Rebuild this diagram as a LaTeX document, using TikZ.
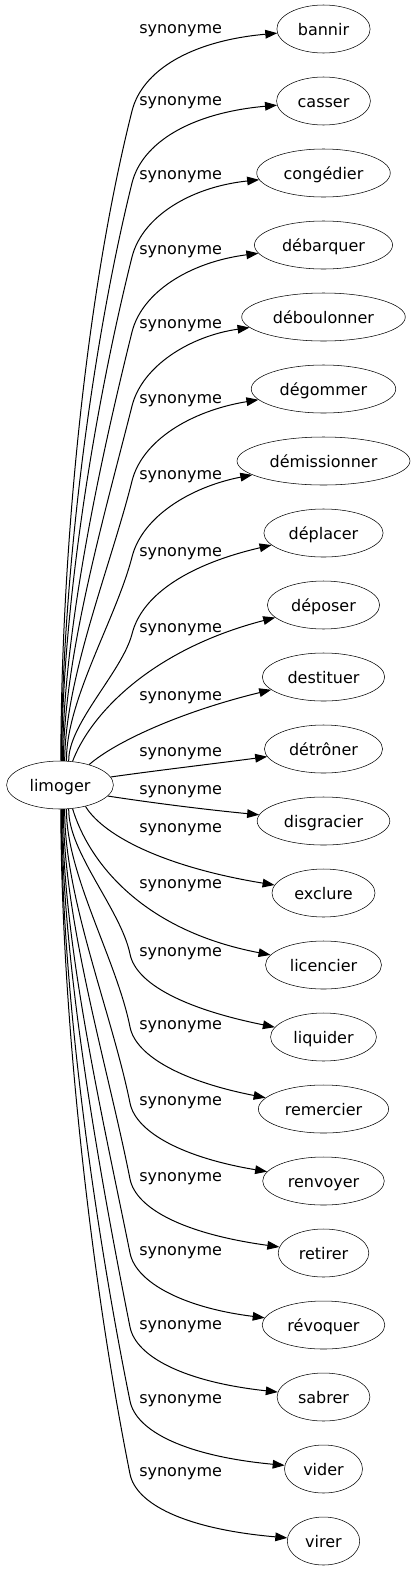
\documentclass[tikz,border=0pt]{standalone}
\usepackage{fontspec}
\setmainfont{DejaVu Sans}
\usetikzlibrary{shapes.geometric,arrows.meta}

\tikzset{
  mot/.style={draw, ellipse, inner xsep=5.5pt, inner ysep=0pt, minimum height=36pt, text height=10pt, text depth=1pt},
  lbl/.style={anchor=west, inner sep=0pt},
  syn/.style={-{Triangle[length=9pt,width=6.5pt]}, line width=0.75pt},
}

\begin{document}
\begin{tikzpicture}[x=0.75pt, y=-0.75pt, font=\fontsize{12}{14}\selectfont]
    \useasboundingbox (0,0) rectangle (413,1571);

    \node[mot] (limoger) at (60,785) {limoger};

    \node[mot] (bannir) at (323.5,29) {bannir};
    \node[mot] (casser) at (323.5,101) {casser};
    \node[mot] (congedier) at (323.5,173) {congédier};
    \node[mot] (debarquer) at (323.5,245) {débarquer};
    \node[mot] (deboulonner) at (323.5,317) {déboulonner};
    \node[mot] (degommer) at (323.5,389) {dégommer};
    \node[mot] (demissionner) at (323.5,461) {démissionner};
    \node[mot] (deplacer) at (323.5,533) {déplacer};
    \node[mot] (deposer) at (323.5,605) {déposer};
    \node[mot] (destituer) at (323.5,677) {destituer};
    \node[mot] (detroner) at (323.5,749) {détrôner};
    \node[mot] (disgracier) at (323.5,821) {disgracier};
    \node[mot] (exclure) at (323.5,893) {exclure};
    \node[mot] (licencier) at (323.5,965) {licencier};
    \node[mot] (liquider) at (323.5,1037) {liquider};
    \node[mot] (remercier) at (323.5,1109) {remercier};
    \node[mot] (renvoyer) at (323.5,1181) {renvoyer};
    \node[mot] (retirer) at (323.5,1253) {retirer};
    \node[mot] (revoquer) at (323.5,1325) {révoquer};
    \node[mot] (sabrer) at (323.5,1397) {sabrer};
    \node[mot] (vider) at (323.5,1469) {vider};
    \node[mot] (virer) at (323.5,1541) {virer};

    \node[lbl] (lbannir) at (139,31) {synonyme};
    \node[lbl] (lcasser) at (139,103) {synonyme};
    \node[lbl] (lcongedier) at (139,177) {synonyme};
    \node[lbl] (ldebarquer) at (139,252) {synonyme};
    \node[lbl] (ldeboulonner) at (139,326) {synonyme};
    \node[lbl] (ldegommer) at (139,401) {synonyme};
    \node[lbl] (ldemissionner) at (139,477) {synonyme};
    \node[lbl] (ldeplacer) at (139,554) {synonyme};
    \node[lbl] (ldeposer) at (139,630) {synonyme};
    \node[lbl] (ldestituer) at (139,698) {synonyme};
    \node[lbl] (ldetroner) at (139,754) {synonyme};
    \node[lbl] (ldisgracier) at (139,792) {synonyme};
    \node[lbl] (lexclure) at (139,830) {synonyme};
    \node[lbl] (llicencier) at (139,886) {synonyme};
    \node[lbl] (lliquider) at (139,954) {synonyme};
    \node[lbl] (lremercier) at (139,1027) {synonyme};
    \node[lbl] (lrenvoyer) at (139,1103) {synonyme};
    \node[lbl] (lretirer) at (139,1179) {synonyme};
    \node[lbl] (lrevoquer) at (139,1253) {synonyme};
    \node[lbl] (lsabrer) at (139,1327) {synonyme};
    \node[lbl] (lvider) at (139,1401) {synonyme};
    \node[lbl] (lvirer) at (139,1474) {synonyme};

    \draw[syn] (limoger.88) .. controls (61,567) and (83,306) .. (132,111) .. controls (142,71) and (190,41) .. (bannir);
    \draw[syn] (limoger.87) .. controls (62,588) and (89,357) .. (132,183) .. controls (142,143) and (190,113) .. (casser);
    \draw[syn] (limoger.86) .. controls (62,610) and (94,409) .. (132,257) .. controls (142,217) and (190,187) .. (congedier);
    \draw[syn] (limoger.84) .. controls (63,633) and (100,461) .. (132,332) .. controls (142,292) and (190,262) .. (debarquer);
    \draw[syn] (limoger.82) .. controls (64,655) and (105,513) .. (132,406) .. controls (142,366) and (190,336) .. (deboulonner);
    \draw[syn] (limoger.79) .. controls (65,678) and (111,565) .. (132,481) .. controls (142,441) and (190,411) .. (degommer);
    \draw[syn] (limoger.75) .. controls (66,700) and (116,619) .. (132,557) .. controls (142,517) and (190,487) .. (demissionner);
    \draw[syn] (limoger.70) .. controls (68,724) and (122,672) .. (132,634) .. controls (142,594) and (190,564) .. (deplacer);
    \draw[syn] (limoger.62) .. controls (90,715) and (150,650) .. (deposer);
    \draw[syn] (limoger.35) .. controls (115,742) and (180,712) .. (destituer);
    \draw[syn] (limoger.9) .. controls (160,770) and (220,763) .. (detroner);
    \draw[syn] (limoger.-13) .. controls (160,804) and (210,810) .. (disgracier);
    \draw[syn] (limoger.-40) .. controls (105,838) and (170,868) .. (exclure);
    \draw[syn] (limoger.-62) .. controls (88,860) and (140,930) .. (licencier);
    \draw[syn] (limoger.-70) .. controls (68,852) and (121,910) .. (130,954) .. controls (136,984) and (185,1009) .. (liquider);
    \draw[syn] (limoger.-75) .. controls (66,874) and (117,961) .. (130,1027) .. controls (136,1057) and (185,1082) .. (remercier);
    \draw[syn] (limoger.-79) .. controls (64,897) and (112,1014) .. (130,1103) .. controls (136,1133) and (185,1158) .. (renvoyer);
    \draw[syn] (limoger.-82) .. controls (63,919) and (108,1068) .. (130,1179) .. controls (136,1209) and (185,1234) .. (retirer);
    \draw[syn] (limoger.-84) .. controls (62,942) and (103,1119) .. (130,1253) .. controls (136,1283) and (185,1308) .. (revoquer);
    \draw[syn] (limoger.-86) .. controls (62,964) and (99,1171) .. (130,1327) .. controls (136,1357) and (185,1382) .. (sabrer);
    \draw[syn] (limoger.-87) .. controls (61,986) and (94,1223) .. (130,1401) .. controls (136,1431) and (185,1456) .. (vider);
    \draw[syn] (limoger.-88) .. controls (61,1008) and (90,1274) .. (130,1474) .. controls (136,1504) and (185,1529) .. (virer);
\end{tikzpicture}
\end{document}
